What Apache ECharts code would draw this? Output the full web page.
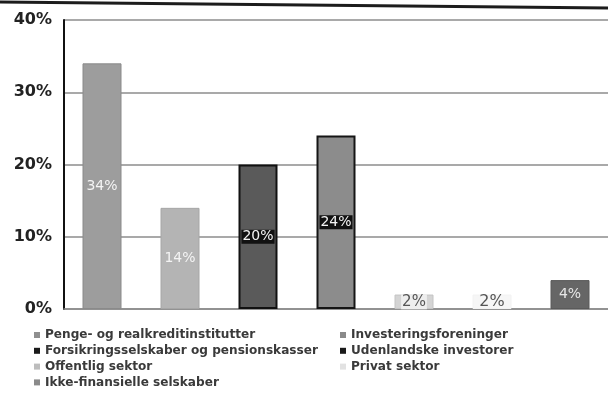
<!DOCTYPE html>
<html>
<head>
<meta charset="utf-8">
<script src="https://cdn.jsdelivr.net/npm/echarts@6/dist/echarts.min.js"></script>
<style>
  html, body { margin: 0; padding: 0; background: #fff; }
  #chart { width: 608px; height: 401px; }
</style>
</head>
<body>
<div id="chart"></div>
<script>
// Investor groups (one bar each) and their shares in percent
const sectors = [
  'Penge- og realkreditinstitutter',
  'Investeringsforeninger',
  'Forsikringsselskaber og pensionskasser',
  'Udenlandske investorer',
  'Offentlig sektor',
  'Privat sektor',
  'Ikke-finansielle selskaber'
];
const shares = [34, 14, 20, 24, 2, 2, 4];
const yTicks = [0, 10, 20, 30, 40];

// Greyscale fills, borders and label styling per bar
const fills   = ['#9d9d9d', '#b4b4b4', '#5a5a5a', '#8c8c8c', '#d4d4d4', '#f6f6f6', '#666666'];
const borders = ['#8a8a8a', '#a6a6a6', '#111111', '#151515', '#c4c4c4', '#f2f2f2', '#5a5a5a'];
const legendMarks = ['#8f8f8f', '#8a8a8a', '#1a1a1a', '#1a1a1a', '#bdbdbd', '#e2e2e2', '#8a8a8a'];
const labelInk = ['#f4f4f4', '#f4f4f4', '#f4f4f4', '#f4f4f4', '#555555', '#555555', '#e6e6e6'];
const labelBg  = [null, null, '#111111', '#111111', '#eeeeee', null, null];
const labelSize = [14, 14, 14, 14, 15, 16, 14];

const FONT = '"DejaVu Sans", Verdana, sans-serif';

const series = sectors.map((name, i) => ({
  name: name,
  type: 'bar',
  data: [shares[i]],
  barWidth: 39,
  barGap: '100%',
  itemStyle: {
    color: fills[i],
    borderColor: borders[i],
    borderWidth: (i === 2 || i === 3) ? 2 : 1
  },
  label: {
    show: true,
    position: 'inside',
    formatter: '{c}%',
    fontFamily: FONT,
    fontSize: labelSize[i],
    color: labelInk[i],
    backgroundColor: labelBg[i] || 'transparent',
    padding: labelBg[i] ? [0, 1] : 0
  }
}));

const legendText = { fontFamily: FONT, fontSize: 12.1, fontWeight: 'bold', color: '#3a3a3a' };
const legendData = idx => idx.map(i => ({
  name: sectors[i],
  itemStyle: { color: legendMarks[i], borderWidth: 0 }
}));

const chart = echarts.init(document.getElementById('chart'), null, { renderer: 'canvas' });
chart.setOption({
  animation: false,
  backgroundColor: '#ffffff',
  grid: { left: 64, right: 0, top: 20, bottom: 92, containLabel: false },
  xAxis: {
    type: 'category',
    data: [''],
    axisLine: { show: true, lineStyle: { color: '#8a8a8a', width: 1.5 } },
    axisTick: { show: false },
    axisLabel: { show: false }
  },
  yAxis: {
    type: 'value',
    min: yTicks[0],
    max: yTicks[yTicks.length - 1],
    interval: yTicks[1] - yTicks[0],
    axisLine: { show: true, lineStyle: { color: '#111', width: 2 } },
    axisTick: { show: false },
    axisLabel: {
      formatter: '{value}%',
      fontFamily: FONT,
      fontSize: 16,
      fontWeight: 'bold',
      color: '#222',
      margin: 12
    },
    splitLine: { show: true, lineStyle: { color: '#8c8c8c', width: 1.5 } }
  },
  legend: [
    {
      orient: 'vertical',
      left: 29,
      top: 324,
      itemWidth: 6,
      itemHeight: 6,
      itemGap: 3.8,
      icon: 'rect',
      textStyle: legendText,
      data: legendData([0, 2, 4, 6])
    },
    {
      orient: 'vertical',
      left: 335,
      top: 324,
      itemWidth: 6,
      itemHeight: 6,
      itemGap: 3.8,
      icon: 'rect',
      textStyle: legendText,
      data: legendData([1, 3, 5])
    }
  ],
  graphic: [
    {
      type: 'line',
      shape: { x1: 0, y1: 2, x2: 608, y2: 8 },
      style: { stroke: '#1c1c1c', lineWidth: 3 }
    }
  ],
  series: series
});
</script>
</body>
</html>
